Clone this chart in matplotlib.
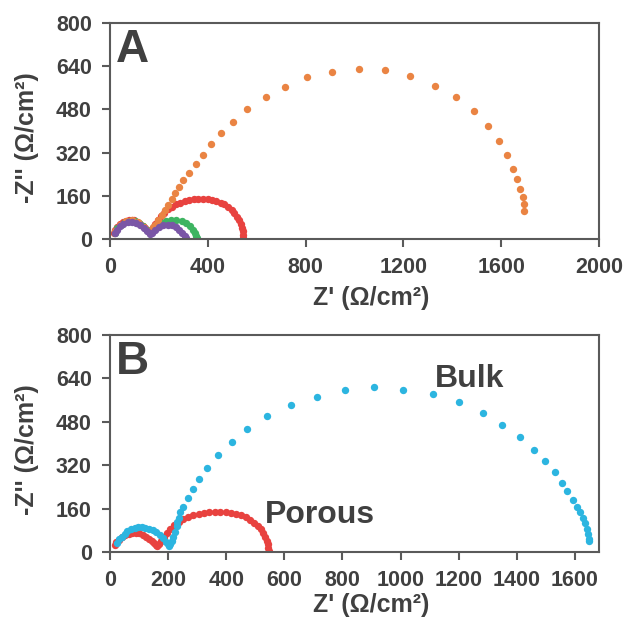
import matplotlib
matplotlib.use("Agg")
import matplotlib.pyplot as plt

plt.rcParams['font.family'] = ['Liberation Sans', 'DejaVu Sans']
plt.rcParams['font.weight'] = 'bold'

# Porous sample (red), same in both panels
porous_re = [17, 22, 30, 40, 52, 65, 77, 89, 100, 112, 123, 134, 144, 152, 158, 163,
             168, 175, 185, 196, 208, 222, 237, 253, 270, 287, 305, 323, 342, 361,
             380, 399, 417, 435, 452, 468, 483, 497, 509, 519, 528, 535, 540, 543,
             545, 546]
porous_im = [24, 35, 45, 55, 63, 68, 71, 71, 69, 64, 57, 49, 41, 33, 26, 22,
             28, 40, 55, 70, 85, 98, 110, 120, 128, 135, 140, 144, 147, 148,
             148, 147, 145, 141, 135, 128, 119, 108, 96, 83, 69, 55, 41, 28,
             16, 5]

# Panel A, orange
orange_re = [22, 40, 65, 90, 115, 140, 160, 170, 175, 184, 198, 211, 225, 238, 252,
             266, 283, 300, 323, 352, 379, 412, 453, 504, 562, 637, 716, 807, 909,
             1017, 1126, 1228, 1329, 1415, 1489, 1547, 1592, 1625, 1649, 1666,
             1677, 1689, 1695, 1695]
orange_im = [28, 50, 66, 70, 62, 45, 30, 35, 44, 52, 70, 89, 107, 126, 147,
             169, 191, 217, 243, 278, 310, 352, 391, 433, 480, 526, 562, 599, 620,
             630, 625, 604, 568, 526, 475, 419, 362, 310, 259, 222,
             186, 156, 131, 105]

# Panel A, green
green_re = [20, 30, 45, 62, 82, 102, 120, 137, 152, 163, 175, 190, 208, 228, 250,
            272, 293, 312, 328, 340, 348, 353, 355]
green_im = [24, 40, 53, 63, 68, 66, 58, 47, 35, 28, 40, 52, 61, 67, 70,
            70, 66, 58, 47, 35, 22, 10, 2]

# Panel A, purple
purple_re = [20, 28, 40, 55, 72, 90, 108, 124, 139, 152, 162, 172, 185, 200, 218,
             236, 254, 270, 284, 296, 305, 311]
purple_im = [21, 35, 47, 57, 63, 64, 60, 51, 40, 28, 20, 24, 35, 44, 50,
             52, 50, 44, 35, 24, 12, 3]

# Bulk sample (blue), panel B
bulk_re = [23, 30, 40, 50, 60, 72, 85, 97, 110, 122, 135, 148, 160, 172, 183, 192,
           198, 202, 207, 212, 218, 224, 229, 232, 236, 241, 251, 267, 287, 306,
           335, 373, 421, 472, 539, 622, 711, 809, 908, 1009, 1110, 1201, 1282,
           1349, 1411, 1460, 1498, 1531, 1555, 1574, 1592, 1607, 1617, 1627,
           1634, 1640, 1645, 1647, 1648]
bulk_im = [32, 47, 57, 68, 77, 83, 88, 91, 92, 90, 86, 80, 72, 62, 50, 38,
           28, 22, 30, 42, 57, 75, 94, 110, 124, 146, 167, 198, 233, 269,
           311, 356, 404, 455, 500, 541, 573, 597, 608, 597, 582, 552, 511,
           469, 424, 377, 335, 295, 254, 224, 193, 167, 146, 127,
           106, 85, 65, 47, 40]

y_ticks = [0, 160, 320, 480, 640, 800]
xa_ticks = [0, 400, 800, 1200, 1600, 2000]
xb_ticks = [0, 200, 400, 600, 800, 1000, 1200, 1400, 1600]

RED = '#E8423F'
ORANGE = '#EA8443'
GREEN = '#3DB461'
PURPLE = '#7A56A6'
BLUE = '#2CB5E0'
TXT = '#404040'
SPINE = '#5A5A5A'

fig = plt.figure(figsize=(6.27, 6.23), dpi=100)
ax_a = fig.add_axes([0.1754, 0.6164, 0.78, 0.3467])
ax_b = fig.add_axes([0.1754, 0.1140, 0.78, 0.3483])

ms = 5.3
ax_a.plot(porous_re, porous_im, 'o', color=RED, ms=ms, mec='none')
ax_a.plot(green_re, green_im, 'o', color=GREEN, ms=ms, mec='none')
ax_a.plot(orange_re, orange_im, 'o', color=ORANGE, ms=ms, mec='none')
ax_a.plot(purple_re, purple_im, 'o', color=PURPLE, ms=ms, mec='none')

ax_b.plot(porous_re, porous_im, 'o', color=RED, ms=ms, mec='none')
ax_b.plot(bulk_re, bulk_im, 'o', color=BLUE, ms=ms, mec='none')

ax_a.set_xlim(0, 2000)
ax_a.set_xticks(xa_ticks)
ax_b.set_xlim(0, 1683)
ax_b.set_xticks(xb_ticks)

for ax, letter, xlab_y in [(ax_a, 'A', -0.275), (ax_b, 'B', -0.245)]:
    ax.set_ylim(0, 800)
    ax.set_yticks(y_ticks)
    for s in ax.spines.values():
        s.set_color(SPINE)
        s.set_linewidth(1.5)
    ax.tick_params(direction='out', length=6, width=1.5, color=SPINE, pad=7,
                   labelsize=15.5, labelcolor=TXT)
    for lab in ax.get_xticklabels() + ax.get_yticklabels():
        lab.set_fontweight('bold')
    ax.set_xlabel("Z' (Ω/cm²)", fontsize=18, fontweight='bold', color=TXT)
    ax.set_ylabel("-Z'' (Ω/cm²)", fontsize=18, fontweight='bold', color=TXT)
    ax.xaxis.label.set_va('center')
    ax.yaxis.label.set_va('center')
    ax.xaxis.set_label_coords(0.534, xlab_y)
    ax.yaxis.set_label_coords(-0.17, 0.47)
    ax.text(0.012, 0.975, letter, transform=ax.transAxes, fontsize=33,
            fontweight='bold', color=TXT, va='top', ha='left')

ax_b.text(1118, 608, 'Bulk', fontsize=23, fontweight='bold', color=TXT,
          va='baseline', ha='left')
ax_b.text(533, 107, 'Porous', fontsize=23, fontweight='bold', color=TXT,
          va='baseline', ha='left')

fig.savefig('out.png', dpi=100)
